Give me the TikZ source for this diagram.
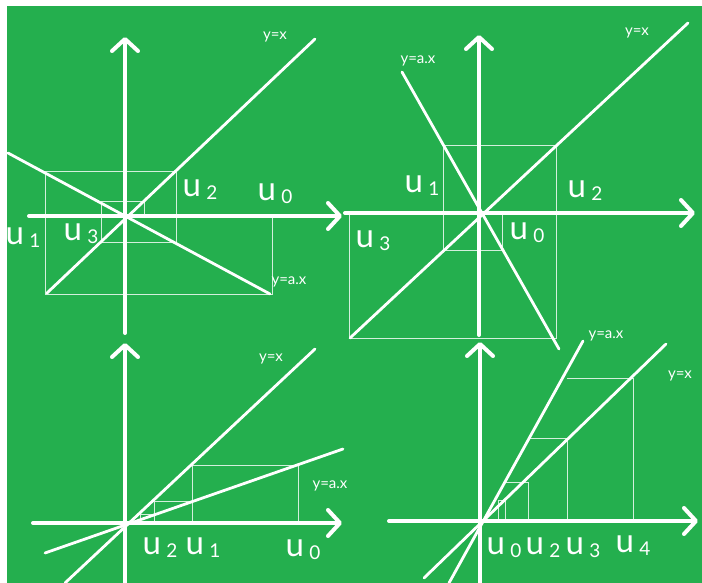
\documentclass[tikz,border=0pt]{standalone}
\usepackage{fontspec}
\setsansfont{Lato}
\usepackage{xcolor}
\usetikzlibrary{arrows.meta}
\definecolor{board}{RGB}{36,175,78}
\newcommand\useq[1]{u\,\raisebox{-3pt}{\fontsize{19}{19}\selectfont #1}}

\begin{document}
\begin{tikzpicture}[
    x=1pt, y=-1pt,
    axis/.style={white, line width=4pt, line cap=round, -{Straight Barb[length=12pt,width=26pt,round]}},
    graph/.style={white, line width=2.8pt, line cap=round},
    web/.style={white!80!board, line width=1pt},
    ulabel/.style={text=white, font=\sffamily\fontsize{33}{33}\selectfont, inner sep=0pt},
    flabel/.style={text=white, font=\sffamily\fontsize{15}{15}\selectfont, inner sep=0pt}
]

\useasboundingbox (0,0) rectangle (702,583);
\fill[white] (0,0) rectangle (702,583);
\fill[board] (7,6) rectangle (702,583);

% Cobwebs
\draw[web] (272,216) -- (272,294) -- (45,294) -- (45,172) -- (176,172) -- (176,242) -- (101,242) -- (101,202) -- (144,202) -- (144,216);
\draw[web] (502,213) -- (502,250) -- (443,250) -- (443,146) -- (556,146) -- (556,338) -- (349,338) -- (349,213);
\draw[web] (298,523) -- (298,465) -- (192,465) -- (192,523);
\draw[web] (192,501) -- (154,501) -- (154,523);
\draw[web] (154,514) -- (140,514) -- (140,523);
\draw[web] (498,521) -- (498,500) -- (505,500) -- (505,521);
\draw[web] (505,482) -- (528,482) -- (528,521);
\draw[web] (528,438) -- (567,438) -- (567,521);
\draw[web] (567,378) -- (633,378) -- (633,521);

% Lines
\draw[graph] (47,293) -- (315,39);
\draw[graph] (8,153) -- (270,294);
\draw[graph] (350,338) -- (688,23);
\draw[graph] (402,72) -- (559,349);
\draw[graph] (65,583) -- (315,349);
\draw[graph] (45,553) -- (343,449);
\draw[graph] (424,578) -- (666,344);
\draw[graph] (449,583) -- (583,341);

% Axes
\draw[axis] (125,333) -- (125,37);
\draw[axis] (29,216) -- (342,216);
\draw[axis] (479,335) -- (479,35);
\draw[axis] (345,213) -- (695,213);
\draw[axis] (125,583) -- (125,343);
\draw[axis] (33,523) -- (342,523);
\draw[axis] (480,583) -- (480,342);
\draw[axis] (389,521) -- (698,521);

% Labels
\node[flabel] (yx1) at (275,37) {y=x};
\node[flabel] (ya1) at (289,282) {y=a.x};
\node[ulabel] (u1a) at (23,238) {\useq{1}};
\node[ulabel] (u3a) at (81,234) {\useq{3}};
\node[ulabel] (u2a) at (200,190) {\useq{2}};
\node[ulabel] (u0a) at (275,194) {\useq{0}};

\node[flabel] (yx2) at (637,33) {y=x};
\node[flabel] (ya2) at (418,61) {y=a.x};
\node[ulabel] (u1b) at (422,186) {\useq{1}};
\node[ulabel] (u2b) at (585,191) {\useq{2}};
\node[ulabel] (u3b) at (373,241) {\useq{3}};
\node[ulabel] (u0b) at (527,233) {\useq{0}};

\node[flabel] (yx3) at (271,359) {y=x};
\node[flabel] (ya3) at (330,486) {y=a.x};
\node[ulabel] (u2c) at (160,548) {\useq{2}};
\node[ulabel] (u1c) at (203,548) {\useq{1}};
\node[ulabel] (u0c) at (303,550) {\useq{0}};

\node[flabel] (ya4) at (606,336) {y=a.x};
\node[flabel] (yx4) at (680,376) {y=x};
\node[ulabel] (u0d) at (504,548) {\useq{0}};
\node[ulabel] (u2d) at (543,548) {\useq{2}};
\node[ulabel] (u3d) at (583,548) {\useq{3}};
\node[ulabel] (u4d) at (633,546) {\useq{4}};

\end{tikzpicture}
\end{document}
